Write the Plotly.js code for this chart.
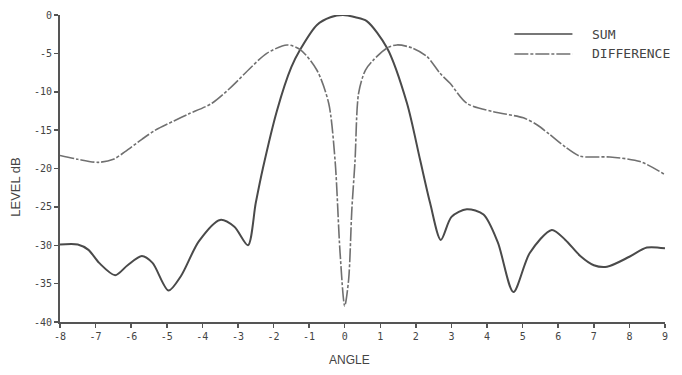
<!DOCTYPE html>
<html>
<head>
<meta charset="utf-8">
<script src="https://cdn.plot.ly/plotly-3.0.1.min.js"></script>
<style>html,body{margin:0;padding:0;background:#fff;}#chart{width:682px;height:375px;}</style>
</head>
<body>
<div id="chart"></div>
<script>
// SUM pattern (angle, level dB)
var sumAngle = [-8.0,-7.5,-7.2,-6.9,-6.45,-6.1,-5.7,-5.4,-4.95,-4.6,-4.1,-3.5,-3.1,-2.72,-2.5,-2.3,-1.9,-1.5,-1.25,-0.78,-0.4,-0.05,0.3,0.62,1.19,1.75,2.12,2.4,2.70,3.0,3.43,3.9,4.3,4.74,5.2,5.82,6.2,6.62,7.0,7.37,8.0,8.49,9.0];
var sumLevel = [-29.9,-29.9,-30.6,-32.3,-33.9,-32.6,-31.4,-32.3,-35.9,-34.0,-29.5,-26.7,-27.6,-30.0,-24.5,-20.0,-12.4,-6.8,-4.5,-1.3,-0.3,0.0,-0.3,-0.8,-4.3,-11.5,-18.9,-24.5,-29.3,-26.3,-25.3,-26.0,-29.6,-36.1,-31.0,-28.0,-29.3,-31.4,-32.6,-32.8,-31.5,-30.3,-30.4];
// DIFFERENCE pattern (angle, level dB)
var diffAngle = [-8.0,-7.5,-6.92,-6.5,-6.17,-5.7,-5.32,-4.8,-4.39,-3.73,-3.17,-2.65,-2.19,-1.62,-1.25,-0.78,-0.45,-0.27,-0.13,0.0,0.11,0.20,0.29,0.39,0.58,0.81,1.19,1.47,1.9,2.31,2.68,2.96,3.43,4.18,5.02,5.4,5.77,6.2,6.61,7.0,7.45,8.30,9.0];
var diffLevel = [-18.3,-18.8,-19.2,-18.8,-17.8,-16.2,-15.0,-13.8,-12.9,-11.5,-9.3,-6.9,-5.0,-3.9,-4.5,-7.2,-11.5,-19.0,-31.0,-37.9,-34.5,-25.4,-19.0,-10.2,-7.2,-5.85,-4.3,-3.9,-4.3,-5.4,-7.6,-8.9,-11.5,-12.6,-13.4,-14.3,-15.6,-17.2,-18.4,-18.5,-18.5,-19.1,-20.8];
var xTicks = [-8,-7,-6,-5,-4,-3,-2,-1,0,1,2,3,4,5,6,7,8,9];
var yTicks = [0,-5,-10,-15,-20,-25,-30,-35,-40];
var seriesNames = ['SUM','DIFFERENCE'];

var traces = [
  {x: sumAngle, y: sumLevel, name: seriesNames[0], mode: 'lines',
   line: {color: '#4a4a4a', width: 2, shape: 'spline', smoothing: 0.8}},
  {x: diffAngle, y: diffLevel, name: seriesNames[1], mode: 'lines',
   line: {color: '#707070', width: 1.6, shape: 'spline', smoothing: 0.8, dash: '14px,2px,3px,2px'}}
];

var axisFont = {family: 'DejaVu Sans Mono, monospace', size: 10, color: '#444'};
var layout = {
  width: 682, height: 375,
  margin: {l: 60, r: 17, t: 15, b: 53},
  paper_bgcolor: '#fff', plot_bgcolor: '#fff',
  showlegend: false,
  xaxis: {range: [-8, 9], tickvals: xTicks, ticktext: xTicks.map(String),
    showgrid: false, zeroline: false, showline: true, linecolor: '#555', linewidth: 2,
    ticks: 'outside', ticklen: 4, tickwidth: 1.5, tickcolor: '#555', tickfont: axisFont},
  yaxis: {range: [-40, 0], tickvals: yTicks, ticktext: yTicks.map(String),
    showgrid: false, zeroline: false, showline: true, linecolor: '#555', linewidth: 2,
    ticks: 'outside', ticklen: 4, tickwidth: 1.5, tickcolor: '#555', tickfont: axisFont},
  shapes: [
    {type: 'line', xref: 'paper', yref: 'paper', x0: 0.751, x1: 0.847, y0: 0.938, y1: 0.938,
     line: {color: '#4a4a4a', width: 1.5}},
    {type: 'line', xref: 'paper', yref: 'paper', x0: 0.751, x1: 0.847, y0: 0.873, y1: 0.873,
     line: {color: '#707070', width: 1.5, dash: '14px,2px,3px,2px'}}
  ],
  annotations: [
    {text: seriesNames[0], xref: 'paper', yref: 'paper', x: 0.876, y: 0.938, xanchor: 'left', yanchor: 'middle',
     showarrow: false, font: {family: 'DejaVu Sans Mono, monospace', size: 13, color: '#444'}},
    {text: seriesNames[1], xref: 'paper', yref: 'paper', x: 0.876, y: 0.873, xanchor: 'left', yanchor: 'middle',
     showarrow: false, font: {family: 'DejaVu Sans Mono, monospace', size: 13, color: '#444'}},
    {text: 'LEVEL dB', xref: 'paper', yref: 'paper', x: -0.073, y: 0.44, xanchor: 'center', yanchor: 'middle',
     textangle: -90, showarrow: false, font: {family: 'Liberation Sans, Arial, sans-serif', size: 13, color: '#444'}},
    {text: 'ANGLE', xref: 'paper', yref: 'paper', x: 0.478, y: -0.125, xanchor: 'center', yanchor: 'middle',
     showarrow: false, font: {family: 'Liberation Sans, Arial, sans-serif', size: 12, color: '#444'}}
  ]
};
Plotly.newPlot('chart', traces, layout, {displayModeBar: false, staticPlot: true});
</script>
</body>
</html>
